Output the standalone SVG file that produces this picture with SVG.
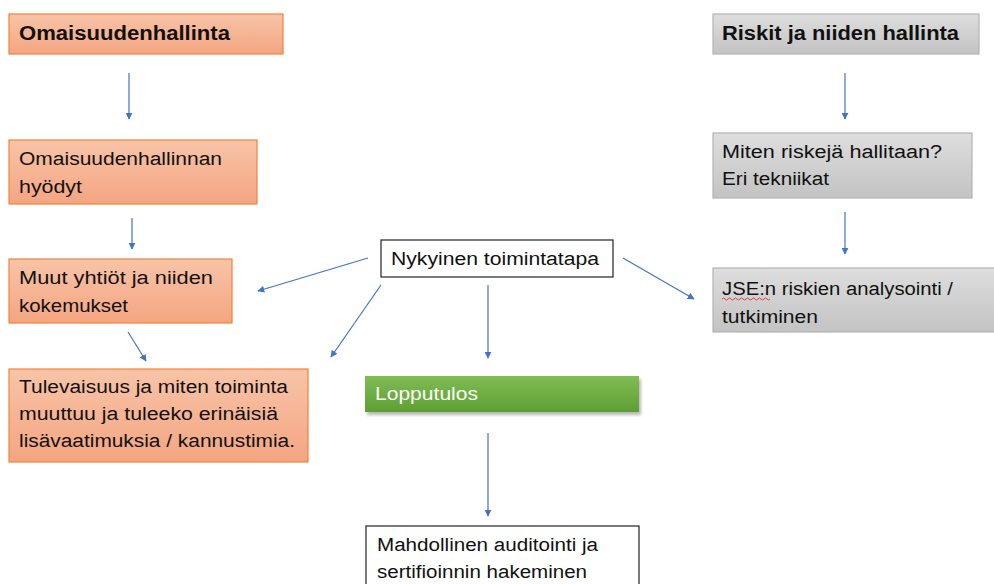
<svg xmlns="http://www.w3.org/2000/svg" width="994" height="584" viewBox="0 0 994 584">
<defs>
<linearGradient id="gOr" x1="0" y1="0" x2="0" y2="1"><stop offset="0" stop-color="#f8c4a8"/><stop offset="1" stop-color="#f4a581"/></linearGradient>
<linearGradient id="gGr" x1="0" y1="0" x2="0" y2="1"><stop offset="0" stop-color="#dedede"/><stop offset="1" stop-color="#c3c3c3"/></linearGradient>
<linearGradient id="gGn" x1="0" y1="0" x2="0" y2="1"><stop offset="0" stop-color="#80bd55"/><stop offset="1" stop-color="#5d9f32"/></linearGradient>
<filter id="sh" x="-10%" y="-30%" width="120%" height="170%"><feGaussianBlur stdDeviation="1.5"/></filter>
<marker id="ah" viewBox="0 0 10 10" refX="9" refY="5" markerWidth="7" markerHeight="7" markerUnits="userSpaceOnUse" orient="auto"><path d="M0,0 L10,5 L0,10 z" fill="#4472c4"/></marker>
</defs>
<style>
.or{fill:url(#gOr);stroke:#f0843a;stroke-width:1.2}
.gr{fill:url(#gGr);stroke:#b4b4b4;stroke-width:1.2}
.wh{fill:#fff;stroke:#222;stroke-width:1.2}
.t{font-family:"Liberation Sans",Arial,sans-serif;font-size:18px;fill:#111}
.b{font-family:"Liberation Sans",Arial,sans-serif;font-size:20px;font-weight:bold;fill:#111}
.c{stroke:#4472c4;stroke-width:1.2;fill:none;marker-end:url(#ah)}
</style>
<rect width="994" height="584" fill="#fff"/>
<g id="n-omaisuudenhallinta"><rect class="or" x="9" y="14" width="274" height="40"/><text class="b" x="19" y="40" textLength="211" lengthAdjust="spacingAndGlyphs">Omaisuudenhallinta</text></g>
<g id="n-riskit"><rect class="gr" x="713" y="14" width="266" height="40"/><text class="b" x="722" y="40" textLength="237" lengthAdjust="spacingAndGlyphs">Riskit ja niiden hallinta</text></g>
<g id="n-hyodyt"><rect class="or" x="9" y="140" width="248" height="64"/><text class="t" x="19" y="165" textLength="203" lengthAdjust="spacingAndGlyphs">Omaisuudenhallinnan</text><text class="t" x="19" y="193" textLength="63" lengthAdjust="spacingAndGlyphs">hyödyt</text></g>
<g id="n-muut"><rect class="or" x="9" y="259" width="223" height="64"/><text class="t" x="19" y="284" textLength="194" lengthAdjust="spacingAndGlyphs">Muut yhtiöt ja niiden</text><text class="t" x="19" y="312" textLength="109" lengthAdjust="spacingAndGlyphs">kokemukset</text></g>
<g id="n-tulevaisuus"><rect class="or" x="9" y="369" width="299" height="93"/><text class="t" x="19" y="393" textLength="269" lengthAdjust="spacingAndGlyphs">Tulevaisuus ja miten toiminta</text><text class="t" x="19" y="420" textLength="259" lengthAdjust="spacingAndGlyphs">muuttuu ja tuleeko erinäisiä</text><text class="t" x="19" y="447" textLength="276" lengthAdjust="spacingAndGlyphs">lisävaatimuksia / kannustimia.</text></g>
<g id="n-nykyinen"><rect class="wh" x="381" y="240" width="232" height="37"/><text class="t" x="391" y="265" textLength="208" lengthAdjust="spacingAndGlyphs">Nykyinen toimintatapa</text></g>
<g id="n-lopputulos"><rect x="367" y="379" width="274" height="36" fill="#888" opacity="0.6" filter="url(#sh)"/><rect x="365" y="376" width="274" height="36" fill="url(#gGn)"/><text class="t" x="375" y="400" textLength="103" lengthAdjust="spacingAndGlyphs" style="fill:#fff">Lopputulos</text></g>
<g id="n-mahdollinen"><rect class="wh" x="366" y="526" width="273" height="70"/><text class="t" x="377" y="551" textLength="221" lengthAdjust="spacingAndGlyphs">Mahdollinen auditointi ja</text><text class="t" x="377" y="578" textLength="210" lengthAdjust="spacingAndGlyphs">sertifioinnin hakeminen</text></g>
<g id="n-miten"><rect class="gr" x="713" y="133" width="259" height="65"/><text class="t" x="722" y="158" textLength="220" lengthAdjust="spacingAndGlyphs">Miten riskejä hallitaan?</text><text class="t" x="722" y="185" textLength="107" lengthAdjust="spacingAndGlyphs">Eri tekniikat</text></g>
<g id="n-jse"><rect class="gr" x="713" y="268" width="283" height="64"/><text class="t" x="722" y="295" textLength="231" lengthAdjust="spacingAndGlyphs">JSE:n riskien analysointi /</text><text class="t" x="722" y="323" textLength="96" lengthAdjust="spacingAndGlyphs">tutkiminen</text><path d="M722,299 q1.5,-2 3,0 t3,0 t3,0 t3,0 t3,0 t3,0 t3,0 t3,0 t3,0 t3,0 t3,0 t3,0 t3,0 t3,0 t3,0 t3,0" fill="none" stroke="#e03030" stroke-width="0.9"/></g>
<g id="connectors">
<line class="c" x1="129" y1="73" x2="129" y2="119"/>
<line class="c" x1="845" y1="73" x2="845" y2="119"/>
<line class="c" x1="132" y1="218" x2="132" y2="249"/>
<line class="c" x1="128" y1="332" x2="146" y2="361"/>
<line class="c" x1="368" y1="258" x2="258" y2="291"/>
<line class="c" x1="381" y1="285" x2="331" y2="357"/>
<line class="c" x1="488" y1="285" x2="488" y2="358"/>
<line class="c" x1="623" y1="258" x2="694" y2="299"/>
<line class="c" x1="845" y1="212" x2="845" y2="254"/>
<line class="c" x1="488" y1="433" x2="488" y2="516"/>
</g>
</svg>
